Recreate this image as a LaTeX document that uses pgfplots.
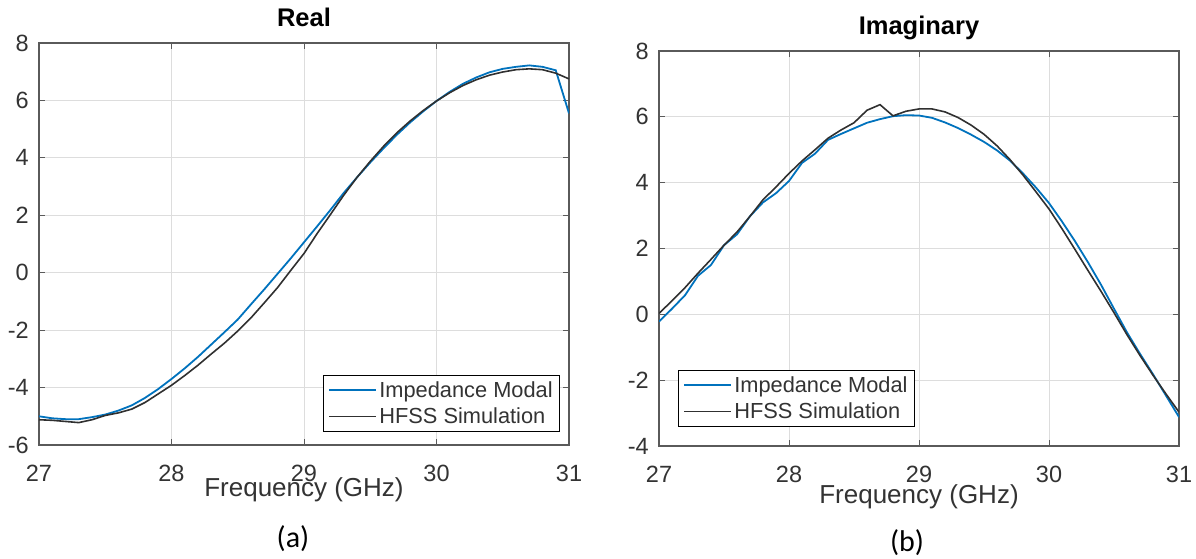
\documentclass[border=0pt]{standalone}
\usepackage{fontspec}
\setmainfont{Liberation Sans}
\newfontfamily\calib{Carlito}
\usepackage{pgfplots}
\pgfplotsset{compat=1.18}
\definecolor{mblue}{HTML}{0072BD}
\definecolor{mblack}{HTML}{303030}
\definecolor{axgray}{HTML}{5A5A5A}
\definecolor{txtgray}{HTML}{333333}
\definecolor{gridgray}{HTML}{DDDDDD}
\pgfplotsset{
  mystyle/.style={
    scale only axis,
    anchor=south west,
    xmin=27, xmax=31,
    xtick={27,28,29,30,31},
    grid=major,
    major grid style={gridgray, line width=0.8pt},
    axis line style={axgray, line width=1.3pt},
    tick style={axgray, line width=1pt},
    tick align=inside,
    major tick length=6pt,
    /pgf/number format/assume math mode=true,
    tick label style={font=\fontsize{23.5}{28}\selectfont, text=txtgray},
    xticklabel style={anchor=base, yshift=-36.5pt, inner sep=0pt},
    yticklabel style={anchor=east, xshift=-10pt, inner sep=0pt},
    title style={at={(0.5,1)}, anchor=base, yshift=11pt, font=\fontsize{25.5}{30}\selectfont\bfseries},
    xlabel={Frequency (GHz)},
    label style={font=\fontsize{26}{30}\selectfont, text=txtgray},
    legend cell align=left,
    legend style={font=\fontsize{21.8}{26}\selectfont, draw=black, line width=1pt, anchor=north west,
      inner xsep=5pt, inner ysep=4pt, row sep=5pt, fill=white, text=txtgray},
    legend image code/.code={\draw[#1] (0pt,0pt) -- (47pt,0pt);},
  }
}
\begin{document}
\begin{tikzpicture}
\useasboundingbox (0,0) rectangle (1196pt,558pt);
\begin{axis}[mystyle,
  at={(39pt,113pt)}, width=530pt, height=402pt,
  ymin=-6, ymax=8, ytick={-6,-4,...,8},
  title={Real},
  xlabel style={at={(axis description cs:0.5,0)}, anchor=base, yshift=-51pt},
  legend style={at={(axis description cs:0.536,0.174)}},
]
\addlegendimage{draw=mblue, line width=1.8pt}
\addlegendentry{Impedance Modal}
\addlegendimage{draw=mblack, line width=1.6pt}
\addlegendentry{HFSS Simulation}
\addplot[mblue, line width=1.8pt, forget plot] coordinates {
(27,-5.0) (27.1,-5.07) (27.2,-5.1) (27.3,-5.1) (27.4,-5.03) (27.5,-4.94) (27.6,-4.8) (27.7,-4.62) (27.8,-4.36) (27.9,-4.05) (28.0,-3.7) (28.1,-3.33) (28.2,-2.93) (28.3,-2.5) (28.4,-2.07) (28.5,-1.63) (28.6,-1.1) (28.7,-0.58) (28.8,-0.04) (28.9,0.5) (29.0,1.06) (29.1,1.62) (29.2,2.19) (29.3,2.78) (29.4,3.32) (29.5,3.84) (29.6,4.33) (29.7,4.8) (29.8,5.23) (29.9,5.62) (30.0,5.98) (30.1,6.3) (30.2,6.58) (30.3,6.8) (30.4,6.98) (30.5,7.1) (30.6,7.17) (30.7,7.22) (30.8,7.17) (30.9,7.05) (31.0,5.55)
};
\addplot[mblack, line width=1.6pt, forget plot] coordinates {
(27,-5.12) (27.1,-5.14) (27.2,-5.18) (27.3,-5.22) (27.4,-5.12) (27.5,-4.97) (27.6,-4.88) (27.7,-4.75) (27.8,-4.52) (27.9,-4.22) (28.0,-3.92) (28.1,-3.58) (28.2,-3.22) (28.3,-2.83) (28.4,-2.45) (28.5,-2.03) (28.6,-1.57) (28.7,-1.05) (28.8,-0.52) (28.9,0.08) (29.0,0.67) (29.1,1.37) (29.2,2.03) (29.3,2.7) (29.4,3.32) (29.5,3.88) (29.6,4.4) (29.7,4.87) (29.8,5.28) (29.9,5.65) (30.0,5.98) (30.1,6.27) (30.2,6.52) (30.3,6.72) (30.4,6.88) (30.5,6.99) (30.6,7.07) (30.7,7.1) (30.8,7.07) (30.9,6.95) (31.0,6.75)
};
\end{axis}
\begin{axis}[mystyle,
  at={(659pt,112pt)}, width=520pt, height=395pt,
  ymin=-4, ymax=8, ytick={-4,-2,...,8},
  title={Imaginary},
  xlabel style={at={(axis description cs:0.5,0)}, anchor=base, yshift=-57pt},
  legend style={at={(axis description cs:0.0365,0.192)}},
]
\addlegendimage{draw=mblue, line width=1.8pt}
\addlegendentry{Impedance Modal}
\addlegendimage{draw=mblack, line width=1.6pt}
\addlegendentry{HFSS Simulation}
\addplot[mblue, line width=1.8pt, forget plot] coordinates {
(27,-0.22) (27.1,0.17) (27.2,0.58) (27.3,1.17) (27.4,1.5) (27.5,2.1) (27.6,2.43) (27.7,2.98) (27.8,3.4) (27.9,3.68) (28.0,4.05) (28.1,4.6) (28.2,4.88) (28.3,5.3) (28.4,5.48) (28.5,5.65) (28.6,5.82) (28.7,5.93) (28.8,6.02) (28.9,6.05) (29.0,6.04) (29.1,5.97) (29.2,5.83) (29.3,5.66) (29.4,5.46) (29.5,5.24) (29.6,4.98) (29.7,4.67) (29.8,4.28) (29.9,3.85) (30.0,3.38) (30.1,2.82) (30.2,2.22) (30.3,1.58) (30.4,0.9) (30.5,0.17) (30.6,-0.55) (30.7,-1.2) (30.8,-1.82) (30.9,-2.47) (31.0,-3.12)
};
\addplot[mblack, line width=1.6pt, forget plot] coordinates {
(27,0.03) (27.1,0.41) (27.2,0.81) (27.3,1.25) (27.4,1.67) (27.5,2.1) (27.6,2.5) (27.7,2.98) (27.8,3.48) (27.9,3.87) (28.0,4.28) (28.1,4.66) (28.2,5.0) (28.3,5.35) (28.4,5.6) (28.5,5.82) (28.6,6.2) (28.7,6.37) (28.8,6.03) (28.9,6.17) (29.0,6.24) (29.1,6.24) (29.2,6.15) (29.3,5.98) (29.4,5.75) (29.5,5.47) (29.6,5.12) (29.7,4.7) (29.8,4.23) (29.9,3.72) (30.0,3.2) (30.1,2.6) (30.2,1.97) (30.3,1.33) (30.4,0.7) (30.5,0.05) (30.6,-0.62) (30.7,-1.25) (30.8,-1.85) (30.9,-2.42) (31.0,-2.97)
};
\end{axis}
\node[anchor=base, font=\calib\fontsize{30}{34}\selectfont, inner sep=0pt] at (293pt,11pt) {(a)};
\node[anchor=base, font=\calib\fontsize{30}{34}\selectfont, inner sep=0pt] at (907pt,7pt) {(b)};
\end{tikzpicture}
\end{document}
